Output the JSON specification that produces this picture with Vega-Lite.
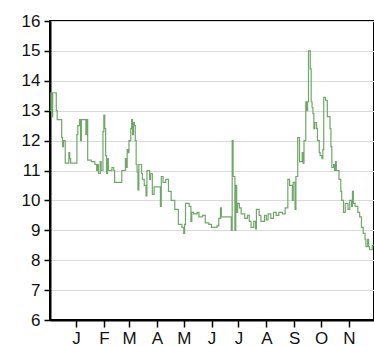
{
  "$schema": "https://vega.github.io/schema/vega-lite/v6.json",
  "width": 324,
  "height": 299,
  "autosize": "none",
  "padding": {"left": 50, "top": 21, "right": 0, "bottom": 26},
  "background": "white",
  "config": {
    "view": {"stroke": "black", "strokeWidth": 2},
    "font": "Liberation Sans"
  },
  "data": {
    "values": [
      {"date": "2008-12-03", "v": 13.0},
      {"date": "2008-12-04", "v": 13.6},
      {"date": "2008-12-05", "v": 12.8},
      {"date": "2008-12-06", "v": 13.6},
      {"date": "2008-12-10", "v": 13.0},
      {"date": "2008-12-11", "v": 12.7},
      {"date": "2008-12-16", "v": 12.1},
      {"date": "2008-12-17", "v": 11.8},
      {"date": "2008-12-18", "v": 12.0},
      {"date": "2008-12-20", "v": 11.25},
      {"date": "2008-12-24", "v": 11.6},
      {"date": "2008-12-25", "v": 11.4},
      {"date": "2008-12-26", "v": 11.25},
      {"date": "2009-01-02", "v": 12.2},
      {"date": "2009-01-03", "v": 12.5},
      {"date": "2009-01-05", "v": 12.7},
      {"date": "2009-01-06", "v": 12.0},
      {"date": "2009-01-07", "v": 12.7},
      {"date": "2009-01-12", "v": 12.2},
      {"date": "2009-01-13", "v": 12.7},
      {"date": "2009-01-14", "v": 11.35},
      {"date": "2009-01-18", "v": 11.3},
      {"date": "2009-01-22", "v": 11.2},
      {"date": "2009-01-24", "v": 11.0},
      {"date": "2009-01-25", "v": 11.2},
      {"date": "2009-01-26", "v": 10.9},
      {"date": "2009-01-28", "v": 11.3},
      {"date": "2009-01-29", "v": 11.0},
      {"date": "2009-01-31", "v": 12.3},
      {"date": "2009-02-01", "v": 12.85},
      {"date": "2009-02-02", "v": 12.4},
      {"date": "2009-02-03", "v": 11.5},
      {"date": "2009-02-04", "v": 10.9},
      {"date": "2009-02-05", "v": 11.4},
      {"date": "2009-02-06", "v": 11.0},
      {"date": "2009-02-10", "v": 11.1},
      {"date": "2009-02-12", "v": 11.0},
      {"date": "2009-02-13", "v": 10.6},
      {"date": "2009-02-21", "v": 11.0},
      {"date": "2009-02-25", "v": 11.4},
      {"date": "2009-02-26", "v": 11.1},
      {"date": "2009-02-27", "v": 11.7},
      {"date": "2009-02-28", "v": 11.6},
      {"date": "2009-03-01", "v": 12.0},
      {"date": "2009-03-03", "v": 12.4},
      {"date": "2009-03-04", "v": 12.7},
      {"date": "2009-03-05", "v": 12.2},
      {"date": "2009-03-06", "v": 12.6},
      {"date": "2009-03-07", "v": 12.5},
      {"date": "2009-03-08", "v": 12.0},
      {"date": "2009-03-09", "v": 11.2},
      {"date": "2009-03-10", "v": 10.95},
      {"date": "2009-03-11", "v": 10.35},
      {"date": "2009-03-12", "v": 11.2},
      {"date": "2009-03-15", "v": 10.9},
      {"date": "2009-03-16", "v": 10.7},
      {"date": "2009-03-18", "v": 10.5},
      {"date": "2009-03-20", "v": 10.15},
      {"date": "2009-03-21", "v": 11.0},
      {"date": "2009-03-24", "v": 10.7},
      {"date": "2009-03-25", "v": 10.9},
      {"date": "2009-03-27", "v": 10.2},
      {"date": "2009-03-29", "v": 10.45},
      {"date": "2009-04-05", "v": 9.8},
      {"date": "2009-04-06", "v": 10.8},
      {"date": "2009-04-08", "v": 10.6},
      {"date": "2009-04-11", "v": 10.7},
      {"date": "2009-04-14", "v": 10.3},
      {"date": "2009-04-17", "v": 10.0},
      {"date": "2009-04-21", "v": 9.7},
      {"date": "2009-04-25", "v": 9.2},
      {"date": "2009-04-29", "v": 9.1},
      {"date": "2009-05-01", "v": 8.9},
      {"date": "2009-05-02", "v": 9.2},
      {"date": "2009-05-03", "v": 9.9},
      {"date": "2009-05-07", "v": 9.8},
      {"date": "2009-05-09", "v": 9.3},
      {"date": "2009-05-10", "v": 9.6},
      {"date": "2009-05-12", "v": 9.55},
      {"date": "2009-05-16", "v": 9.6},
      {"date": "2009-05-18", "v": 9.45},
      {"date": "2009-05-22", "v": 9.5},
      {"date": "2009-05-25", "v": 9.25},
      {"date": "2009-05-29", "v": 9.2},
      {"date": "2009-06-01", "v": 9.1},
      {"date": "2009-06-07", "v": 9.15},
      {"date": "2009-06-09", "v": 9.4},
      {"date": "2009-06-11", "v": 9.75},
      {"date": "2009-06-12", "v": 9.45},
      {"date": "2009-06-23", "v": 9.0},
      {"date": "2009-06-24", "v": 12.0},
      {"date": "2009-06-25", "v": 10.8},
      {"date": "2009-06-27", "v": 9.0},
      {"date": "2009-06-28", "v": 10.5},
      {"date": "2009-06-29", "v": 9.6},
      {"date": "2009-06-30", "v": 9.9},
      {"date": "2009-07-02", "v": 9.75},
      {"date": "2009-07-04", "v": 9.55},
      {"date": "2009-07-08", "v": 9.4},
      {"date": "2009-07-11", "v": 9.5},
      {"date": "2009-07-13", "v": 9.3},
      {"date": "2009-07-15", "v": 9.1},
      {"date": "2009-07-18", "v": 9.3},
      {"date": "2009-07-20", "v": 9.05},
      {"date": "2009-07-21", "v": 9.7},
      {"date": "2009-07-24", "v": 9.5},
      {"date": "2009-07-26", "v": 9.3},
      {"date": "2009-07-30", "v": 9.5},
      {"date": "2009-08-01", "v": 9.35},
      {"date": "2009-08-03", "v": 9.55},
      {"date": "2009-08-06", "v": 9.4},
      {"date": "2009-08-09", "v": 9.6},
      {"date": "2009-08-12", "v": 9.5},
      {"date": "2009-08-15", "v": 9.6},
      {"date": "2009-08-19", "v": 9.55},
      {"date": "2009-08-22", "v": 9.75},
      {"date": "2009-08-25", "v": 10.7},
      {"date": "2009-08-27", "v": 10.5},
      {"date": "2009-08-30", "v": 10.0},
      {"date": "2009-08-31", "v": 10.6},
      {"date": "2009-09-02", "v": 9.7},
      {"date": "2009-09-03", "v": 10.8},
      {"date": "2009-09-05", "v": 12.1},
      {"date": "2009-09-07", "v": 11.3},
      {"date": "2009-09-10", "v": 11.6},
      {"date": "2009-09-11", "v": 11.25},
      {"date": "2009-09-12", "v": 12.0},
      {"date": "2009-09-14", "v": 13.3},
      {"date": "2009-09-15", "v": 13.0},
      {"date": "2009-09-16", "v": 13.3},
      {"date": "2009-09-17", "v": 15.0},
      {"date": "2009-09-19", "v": 14.4},
      {"date": "2009-09-20", "v": 13.3},
      {"date": "2009-09-21", "v": 13.1},
      {"date": "2009-09-22", "v": 12.9},
      {"date": "2009-09-23", "v": 12.4},
      {"date": "2009-09-24", "v": 12.6},
      {"date": "2009-09-26", "v": 12.4},
      {"date": "2009-09-27", "v": 12.0},
      {"date": "2009-09-29", "v": 11.6},
      {"date": "2009-09-30", "v": 11.5},
      {"date": "2009-10-02", "v": 11.4},
      {"date": "2009-10-03", "v": 11.7},
      {"date": "2009-10-04", "v": 13.45},
      {"date": "2009-10-06", "v": 13.35},
      {"date": "2009-10-08", "v": 12.8},
      {"date": "2009-10-11", "v": 12.4},
      {"date": "2009-10-12", "v": 11.8},
      {"date": "2009-10-13", "v": 11.1},
      {"date": "2009-10-15", "v": 11.2},
      {"date": "2009-10-16", "v": 11.0},
      {"date": "2009-10-17", "v": 11.3},
      {"date": "2009-10-18", "v": 11.0},
      {"date": "2009-10-21", "v": 10.7},
      {"date": "2009-10-23", "v": 10.3},
      {"date": "2009-10-24", "v": 10.0},
      {"date": "2009-10-26", "v": 9.6},
      {"date": "2009-10-28", "v": 9.9},
      {"date": "2009-10-31", "v": 9.7},
      {"date": "2009-11-02", "v": 10.0},
      {"date": "2009-11-04", "v": 9.8},
      {"date": "2009-11-05", "v": 10.3},
      {"date": "2009-11-06", "v": 9.9},
      {"date": "2009-11-08", "v": 9.8},
      {"date": "2009-11-11", "v": 9.6},
      {"date": "2009-11-13", "v": 9.45},
      {"date": "2009-11-15", "v": 9.1},
      {"date": "2009-11-17", "v": 8.9},
      {"date": "2009-11-19", "v": 8.7},
      {"date": "2009-11-20", "v": 8.45},
      {"date": "2009-11-22", "v": 8.7},
      {"date": "2009-11-23", "v": 8.45},
      {"date": "2009-11-24", "v": 8.35},
      {"date": "2009-11-27", "v": 8.5},
      {"date": "2009-12-03", "v": 8.6}
    ]
  },
  "mark": {"type": "line", "interpolate": "step-after", "color": "#6fa868", "strokeWidth": 1.2, "clip": true},
  "encoding": {
    "x": {
      "field": "date",
      "type": "temporal",
      "scale": {"type": "utc", "domain": ["2008-12-03", "2009-11-29"]},
      "axis": {
        "title": null,
        "grid": false,
        "tickCount": {"interval": "month", "step": 1},
        "labelExpr": "substring(utcFormat(datum.value, '%b'), 0, 1)",
        "labelFontSize": 17,
        "labelColor": "#111",
        "labelPadding": 3,
        "labelFlush": false,
        "labelOverlap": false,
        "tickSize": 7,
        "tickColor": "black",
        "tickWidth": 1.5,
        "domainColor": "black",
        "domainWidth": 2
      }
    },
    "y": {
      "field": "v",
      "type": "quantitative",
      "scale": {"domain": [6, 16], "nice": false, "zero": false},
      "axis": {
        "title": null,
        "values": [6, 7, 8, 9, 10, 11, 12, 13, 14, 15, 16],
        "labelFontSize": 17,
        "labelColor": "#111",
        "labelPadding": 4,
        "tickSize": 6,
        "tickColor": "black",
        "tickWidth": 1.5,
        "domainColor": "black",
        "domainWidth": 2,
        "gridColor": "#d9d9d9",
        "gridWidth": 1
      }
    }
  }
}
